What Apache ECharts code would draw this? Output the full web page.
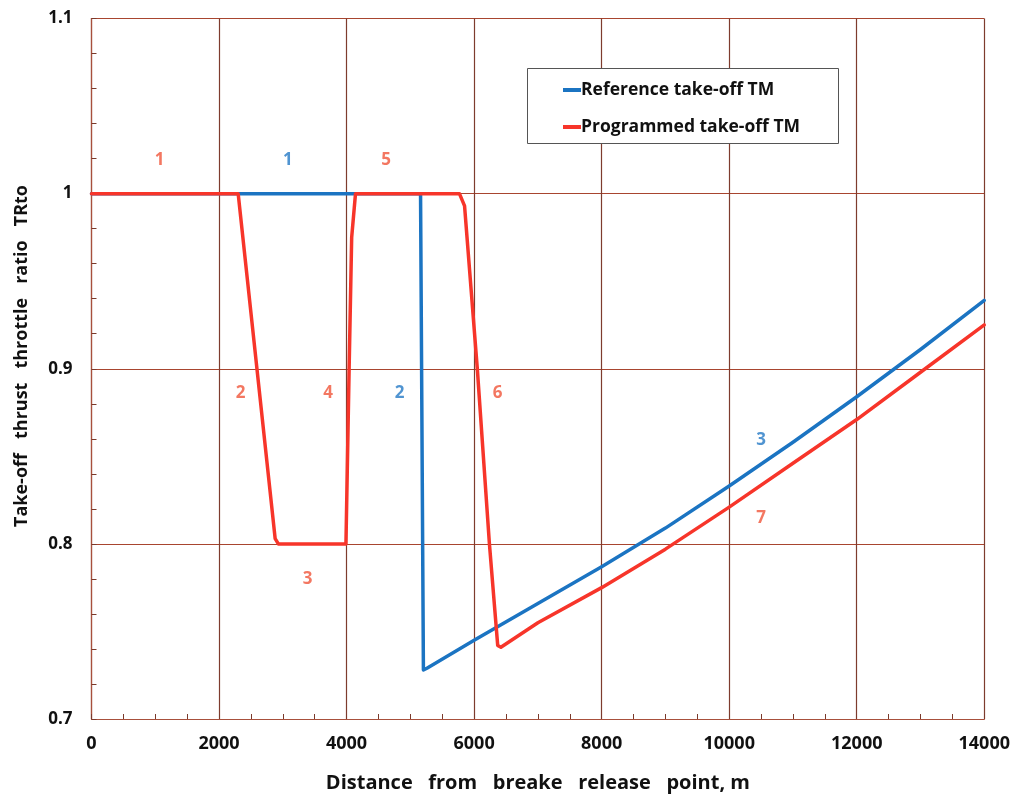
<!DOCTYPE html>
<html>
<head>
<meta charset="utf-8">
<script src="https://cdn.jsdelivr.net/npm/echarts@6/dist/echarts.min.js"></script>
<style>
  html, body { margin: 0; padding: 0; background: #fff; }
  #chart { width: 1013px; height: 798px; }
</style>
</head>
<body>
<div id="chart"></div>
<script>
// Reference take-off TM (blue), [distance m, TRto]
const referenceTM = [
  [0, 1], [5160, 1], [5205, 0.728], [5260, 0.729], [6000, 0.745],
  [7000, 0.766], [8000, 0.787], [9000, 0.809], [10000, 0.833],
  [11000, 0.858], [12000, 0.884], [13000, 0.911], [14000, 0.939]
];

// Programmed take-off TM (red)
const programmedTM = [
  [0, 1], [2300, 1], [2880, 0.803], [2930, 0.8], [3990, 0.8],
  [4040, 0.9], [4080, 0.975], [4140, 1], [5770, 1], [5850, 0.993],
  [6050, 0.9], [6240, 0.8], [6370, 0.742], [6420, 0.741], [7000, 0.755],
  [8000, 0.775], [9000, 0.797], [10000, 0.821], [11000, 0.846],
  [12000, 0.871], [13000, 0.898], [14000, 0.925]
];

// segment number labels: [distance, TRto, text, which]
const segmentLabels = [
  [1070, 1.019, '1', 'red'], [3080, 1.019, '1', 'blue'], [4620, 1.019, '5', 'red'],
  [2340, 0.886, '2', 'red'], [3710, 0.886, '4', 'red'], [4830, 0.886, '2', 'blue'],
  [6370, 0.886, '6', 'red'], [3390, 0.780, '3', 'red'],
  [10500, 0.859, '3', 'blue'], [10500, 0.8146, '7', 'red']
];

const BLUE = '#1b74c2';
const RED = '#f7352a';
const LABEL_RED = '#f0553a';
const LABEL_BLUE = '#2479c6';
const FONT = 'Open Sans';

const chart = echarts.init(document.getElementById('chart'), null, { renderer: 'canvas' });

const option = {
  backgroundColor: '#ffffff',
  animation: false,
  grid: { left: 91.5, top: 18.5, right: 28, bottom: 78 },
  legend: {
    left: 558, top: 76, z: 10,
    orient: 'vertical',
    itemWidth: 18, itemHeight: 4, itemGap: 19,
    icon: 'rect',
    textStyle: { fontFamily: FONT, fontWeight: 'bold', fontSize: 17.5, color: '#111', padding: [0, 0, 0, -5] },
    data: ['Reference take-off TM', 'Programmed take-off TM']
  },
  graphic: [
    {
      type: 'rect', left: 527, top: 68, z: 1, silent: true,
      shape: { width: 311, height: 75 },
      style: { fill: '#fff', stroke: '#555', lineWidth: 1 }
    },
    {
      // y-axis title, sits a bit above the plot centre in the original
      type: 'text', x: 22, y: 356, rotation: Math.PI / 2, silent: true,
      style: {
        text: 'Take-off   thrust   throttle   ratio   TRto',
        fontFamily: FONT, fontWeight: 'bold', fontSize: 18, fill: '#111',
        align: 'center', verticalAlign: 'middle'
      }
    }
  ],
  xAxis: {
    type: 'value', min: 0, max: 14000, interval: 2000,
    name: 'Distance   from   breake   release   point, m',
    nameLocation: 'middle', nameGap: 54,
    nameTextStyle: { fontFamily: FONT, fontWeight: 'bold', fontSize: 20, color: '#111' },
    axisLine: { show: true, lineStyle: { color: '#a8503c', width: 1.2 } },
    axisTick: { show: true, inside: true, length: 5, lineStyle: { color: '#7a3a2c' } },
    minorTick: { show: true, splitNumber: 4, length: 5, lineStyle: { color: '#7a3a2c' } },
    axisLabel: {
      margin: 16, fontFamily: FONT, fontWeight: 'bold', fontSize: 18, color: '#111',
      formatter: v => String(v)
    },
    splitLine: { show: true, lineStyle: { color: '#7e3c2e', width: 1.2 } }
  },
  yAxis: {
    type: 'value', min: 0.7, max: 1.1, interval: 0.1,
    axisLine: { show: true, lineStyle: { color: '#a8503c', width: 1.2 } },
    axisTick: { show: true, inside: true, length: 5, lineStyle: { color: '#7a3a2c' } },
    minorTick: { show: true, splitNumber: 5, length: 5, lineStyle: { color: '#7a3a2c' } },
    axisLabel: {
      margin: 19, fontFamily: FONT, fontWeight: 'bold', fontSize: 17, color: '#111',
      formatter: v => String(Math.round(v * 10) / 10)
    },
    splitLine: { show: true, lineStyle: { color: '#a8452f', width: 1.2 } }
  },
  series: [
    {
      name: 'Reference take-off TM', type: 'line', data: referenceTM,
      showSymbol: false, symbol: 'none',
      itemStyle: { color: BLUE },
      lineStyle: { color: BLUE, width: 3.5, join: 'round', cap: 'round' },
      z: 3
    },
    {
      name: 'Programmed take-off TM', type: 'line', data: programmedTM,
      showSymbol: false, symbol: 'none',
      itemStyle: { color: RED },
      lineStyle: { color: RED, width: 3.5, join: 'round', cap: 'round' },
      z: 4
    },
    {
      type: 'scatter', symbolSize: 0, silent: true, z: 6,
      data: segmentLabels.map(d => ({
        value: [d[0], d[1]],
        label: {
          show: true, position: 'inside', formatter: d[2],
          fontFamily: FONT, fontWeight: 'bold', fontSize: 17,
          color: d[3] === 'red' ? LABEL_RED : LABEL_BLUE
        }
      }))
    }
  ]
};

chart.setOption(option);
</script>
</body>
</html>
